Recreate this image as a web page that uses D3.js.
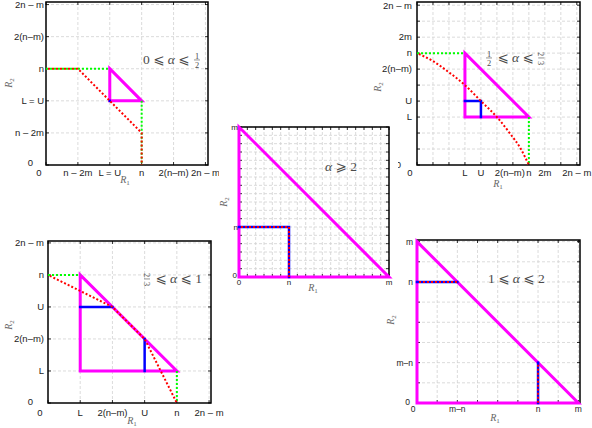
<!DOCTYPE html>
<html>
<head>
<meta charset="utf-8">
<script src="https://cdn.jsdelivr.net/npm/d3@7"></script>
<style>
  body { margin: 0; background: #fff; }
  svg { display: block; }
  .grid line { stroke: #d2d2d2; stroke-width: 0.8; stroke-dasharray: 3,2; }
  .frame { fill: none; stroke: #000; stroke-width: 1.5; }
  .tk line { stroke: #000; stroke-width: 0.8; }
  .lab { font-family: "Liberation Sans", Arial, sans-serif; fill: #222; }
  .math { font-family: "Liberation Serif", "DejaVu Serif", "DejaVu Sans", serif; fill: #4a4a4a; }
  .ax { font-family: "Liberation Serif", "DejaVu Serif", serif; font-style: italic; fill: #666; font-size: 10px; }
  .mag { fill: none; stroke: #ff00ff; stroke-width: 3; }
  .blue { fill: none; stroke: #0000ff; stroke-width: 2.5; stroke-linecap: square; }
  .green { fill: none; stroke: #00ff00; stroke-width: 2; stroke-dasharray: 2,2; }
  .red { fill: none; stroke: #ff0000; stroke-width: 2; stroke-dasharray: 2,2; stroke-dashoffset: 2; }
</style>
</head>
<body>
<script>

// panel 1: 0 <= a <= 1/2
var p1Ticks = [0, 1, 2, 3, 4, 5],
    p1Labels = ["0", "n – 2m", "L = U", "n", "2(n–m)", "2n – m"],
    p1Tri = [[2, 3], [2, 2], [3, 2]],
    p1Blue = [[2, 2], [2, 2]],
    p1GreenA = [[0, 3], [2, 3]],
    p1GreenB = [[3, 2], [3, 0]],
    p1Red = [[0, 3], [1, 3], [3, 1], [3, 0]],
    p1Title = ["0 ⩽ α ⩽ ", {n: "1", d: "2"}];

// panel 2: 1/2 <= a <= 2/3
var p2Ticks = [0, 3, 4, 6, 7, 8, 10],
    p2Labels = ["0", "L", "U", "2(n–m)", "n", "2m", "2n – m"],
    p2Tri = [[3, 7], [3, 3], [7, 3]],
    p2Blue = [[3, 4], [4, 4], [4, 3]],
    p2GreenA = [[0, 7], [3, 7]],
    p2GreenB = [[7, 3], [7, 0]],
    p2Red = [[0, 7], [1, 6.5], [2, 5.8], [3, 5.0], [4, 4], [5, 3.0], [5.8, 2], [6.5, 1], [7, 0]],
    p2Title = [{n: "1", d: "2"}, " ⩽ α ⩽ ", {n: "2", d: "3", turn: true}];

// panel 3: a >= 2
var p3Ticks = [0, 1, 3],
    p3Labels = ["0", "n", "m"],
    p3Tri = [[0, 3], [0, 0], [3, 0]],
    p3Inner = [[0, 1], [1, 1], [1, 0]],
    p3Title = ["α ⩾ 2"];

// panel 4: 2/3 <= a <= 1
var p4Ticks = [0, 1, 2, 3, 4, 5],
    p4Labels = ["0", "L", "2(n–m)", "U", "n", "2n – m"],
    p4Tri = [[1, 4], [1, 1], [4, 1]],
    p4BlueA = [[1, 3], [2, 3]],
    p4BlueB = [[3, 2], [3, 1]],
    p4GreenA = [[0, 4], [1, 4]],
    p4GreenB = [[4, 1], [4, 0]],
    p4Red = [[0, 4], [1, 3.5], [2, 3], [3, 2], [3.5, 1], [4, 0]],
    p4Title = [{n: "2", d: "3", turn: true}, " ⩽ α ⩽ 1"];

// panel 5: 1 <= a <= 2
var p5Ticks = [0, 1, 3, 4],
    p5Labels = ["0", "m–n", "n", "m"],
    p5Tri = [[0, 4], [0, 0], [4, 0]],
    p5InnerA = [[0, 3], [1, 3]],
    p5InnerB = [[3, 1], [3, 0]],
    p5Title = ["1 ⩽ α ⩽ 2"];

var panels = [
  { x0: 46, x1: 208, y0: 2, y1: 165, max: 5.08, step: 1, font: 9.5, xGap: 10.5, yGap: 2,
    zx: -7, zyGap: 13, zdy: -2, ticks: p1Ticks, labels: p1Labels,
    series: [[p1Tri, "mag", true], [p1Blue, "blue"], [p1GreenA, "green"], [p1GreenB, "green"], [p1Red, "red"]],
    title: p1Title, tx: 143, ty: 64, r1: [125, 183], r2: [12, 83] },
  { x0: 417, x1: 580, y0: 2, y1: 165, max: 10.2, step: 1, font: 9.5, xGap: 10.5, yGap: 5,
    zx: -7, zyGap: 16, zdy: 0, ticks: p2Ticks, labels: p2Labels, nudge: {6: -3},
    series: [[p2Tri, "mag", true], [p2Blue, "blue"], [p2GreenA, "green"], [p2GreenB, "green"], [p2Red, "red", false, true]],
    title: p2Title, tx: 485, ty: 62, r1: [498, 187], r2: [381, 87] },
  { x0: 48, x1: 211, y0: 241, y1: 403, max: 5.06, step: 1, font: 9.5, xGap: 12.5, yGap: 4,
    zx: -8, zyGap: 15, zdy: -1, ticks: p4Ticks, labels: p4Labels,
    series: [[p4Tri, "mag", true], [p4BlueA, "blue"], [p4BlueB, "blue"], [p4GreenA, "green"], [p4GreenB, "green"], [p4Red, "red"]],
    title: p4Title, tx: 143, ty: 283, r1: [132, 424], r2: [12, 325] },
  { x0: 417, x1: 580, y0: 240, y1: 403, max: 4.04, step: 0.5, font: 8.5, xGap: 8.5, yGap: 4,
    zx: -4, zyGap: 7, zdy: -1, ticks: p5Ticks, labels: p5Labels,
    series: [[p5Tri, "mag", true], [p5InnerA, "blue"], [p5InnerB, "blue"], [p5InnerA, "red"], [p5InnerB, "red"]],
    title: p5Title, tx: 488, ty: 283, r1: [495, 421], r2: [394, 320] },
  { x0: 239, x1: 389, y0: 127, y1: 277, max: 3, step: 1 / 6, font: 8, xGap: 8, yGap: 1,
    zx: 0, zyGap: 2, zdy: -2, ticks: p3Ticks, labels: p3Labels, bg: [219, 112, 179, 188],
    series: [[p3Tri, "mag", true], [p3Inner, "blue"], [p3Inner, "red"]],
    title: p3Title, tx: 325, ty: 171, r1: [313, 291], r2: [227, 202] }
];

var svg = d3.select("body").append("svg")
    .attr("width", 592)
    .attr("height", 428);

panels.forEach(plot);

function plot(p) {
  var g = svg.append("g");

  if (p.bg) g.append("rect")
      .attr("x", p.bg[0]).attr("y", p.bg[1])
      .attr("width", p.bg[2]).attr("height", p.bg[3])
      .attr("fill", "#fff");

  var x = d3.scaleLinear().domain([0, p.max]).range([p.x0, p.x1]);
  var y = d3.scaleLinear().domain([0, p.max]).range([p.y1, p.y0]);

  var steps = d3.range(0, Math.floor(p.max / p.step + 1e-6) + 1).map(function(i) { return i * p.step; });

  // grid
  var grid = g.append("g").attr("class", "grid");
  grid.selectAll(".gx").data(steps.slice(1)).enter().append("line")
      .attr("x1", x).attr("x2", x).attr("y1", p.y0).attr("y2", p.y1);
  grid.selectAll(".gy").data(steps.slice(1)).enter().append("line")
      .attr("y1", y).attr("y2", y).attr("x1", p.x0).attr("x2", p.x1);

  // inner ticks on all four sides
  var tk = g.append("g").attr("class", "tk");
  steps.forEach(function(v) {
    tk.append("line").attr("x1", x(v)).attr("x2", x(v)).attr("y1", p.y1).attr("y2", p.y1 - 3);
    tk.append("line").attr("x1", x(v)).attr("x2", x(v)).attr("y1", p.y0).attr("y2", p.y0 + 3);
    tk.append("line").attr("y1", y(v)).attr("y2", y(v)).attr("x1", p.x0).attr("x2", p.x0 + 3);
    tk.append("line").attr("y1", y(v)).attr("y2", y(v)).attr("x1", p.x1).attr("x2", p.x1 - 3);
  });

  g.append("rect").attr("class", "frame")
      .attr("x", p.x0).attr("y", p.y0)
      .attr("width", p.x1 - p.x0).attr("height", p.y1 - p.y0);

  // curves
  var line = d3.line().x(function(d) { return x(d[0]); }).y(function(d) { return y(d[1]); });
  var smooth = d3.line().x(function(d) { return x(d[0]); }).y(function(d) { return y(d[1]); })
      .curve(d3.curveMonotoneX);
  p.series.forEach(function(s) {
    var d = (s[3] ? smooth : line)(s[0]) + (s[2] ? "Z" : "");
    g.append("path").attr("class", s[1]).attr("d", d);
  });

  // tick labels
  p.ticks.forEach(function(v, i) {
    var zero = v === 0,
        nudge = (p.nudge && p.nudge[v]) || 0;
    g.append("text").attr("class", "lab")
        .attr("x", x(v) + (zero ? p.zx : nudge))
        .attr("y", p.y1 + p.xGap)
        .attr("text-anchor", "middle")
        .style("font-size", p.font + "px")
        .text(p.labels[i]);
    g.append("text").attr("class", "lab")
        .attr("x", p.x0 - (zero ? p.zyGap : p.yGap))
        .attr("y", y(v) + (zero ? p.zdy : 0))
        .attr("dy", "0.35em")
        .attr("text-anchor", "end")
        .style("font-size", p.font + "px")
        .text(p.labels[i]);
  });

  // axis names
  var r1 = g.append("text").attr("class", "ax")
      .attr("x", p.r1[0]).attr("y", p.r1[1]).attr("text-anchor", "middle");
  r1.append("tspan").text("R");
  r1.append("tspan").attr("dy", 2).style("font-size", "7px").style("font-style", "normal").text("1");

  var r2 = g.append("text").attr("class", "ax")
      .attr("transform", "translate(" + p.r2[0] + "," + p.r2[1] + ") rotate(-90)")
      .attr("text-anchor", "middle");
  r2.append("tspan").text("R");
  r2.append("tspan").attr("dy", 2).style("font-size", "7px").style("font-style", "normal").text("2");

  mathText(g, p.tx, p.ty, p.title, 13.5);
}

function mathText(g, x0, y0, parts, size) {
  var cx = x0;
  parts.forEach(function(part) {
    if (typeof part === "string") {
      var t = g.append("text").attr("class", "math")
          .attr("x", cx).attr("y", y0)
          .style("font-size", size + "px")
          .attr("xml:space", "preserve")
          .style("white-space", "pre");
      part.split(/(α)/).forEach(function(s) {
        if (!s) return;
        t.append("tspan").style("font-style", s === "α" ? "italic" : null).text(s);
      });
      cx += t.node().getComputedTextLength();
    } else {
      var fs = size * 0.62, fw = 8;
      var f = g.append("g").attr("transform", "translate(" + (cx + fw / 2) + "," + (y0 - size * 0.3) + ")");
      var rot = part.turn ? "rotate(90)" : null;
      f.append("g").attr("transform", "translate(0," + (-fs * 0.45) + ")")
        .append("text").attr("class", "math")
          .attr("text-anchor", "middle").attr("dy", "0.35em")
          .attr("transform", rot)
          .style("font-size", fs + "px").text(part.n);
      f.append("g").attr("transform", "translate(0," + (fs * 0.6) + ")")
        .append("text").attr("class", "math")
          .attr("text-anchor", "middle").attr("dy", "0.35em")
          .attr("transform", rot)
          .style("font-size", fs + "px").text(part.d);
      f.append("line").attr("x1", -3).attr("x2", 3).attr("y1", 0).attr("y2", 0)
          .attr("stroke", "#4a4a4a").attr("stroke-width", 0.6);
      cx += fw + 1;
    }
  });
}
</script>
</body>
</html>
